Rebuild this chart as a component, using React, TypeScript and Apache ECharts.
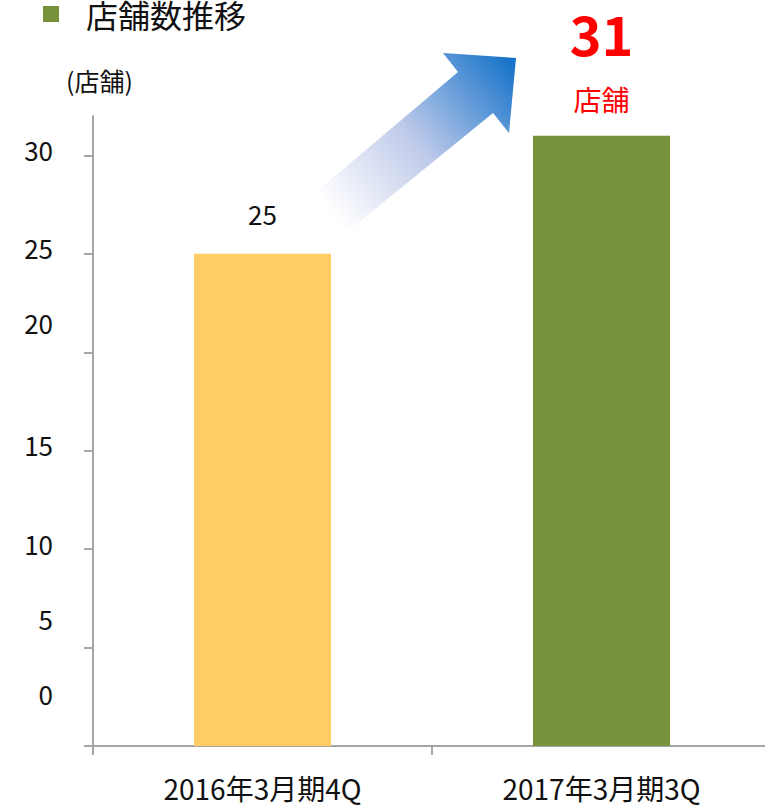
import React, { useEffect, useRef } from "react";
import * as echarts from "echarts";

const categories = ["2016年3月期4Q", "2017年3月期3Q"];
const storeCounts = [25, 31];
const barColors = ["#FFCC66", "#76933C"];
const yTicks = [0, 5, 10, 15, 20, 25, 30];
// vertical offset (px, upward) of each y label relative to its tick, as in the reference
const yLabelShift: Record<number, number> = { 0: 53, 5: 29, 10: 6, 15: 6, 20: 30, 25: 6, 30: 6 };
const seriesName = "店舗数推移";
const unitLabel = "(店舗)";
const highlightUnit = "店舗";

const FONT = '"Noto Sans CJK JP", "Noto Sans", sans-serif';

export default function App() {
  const ref = useRef<HTMLDivElement>(null);
  useEffect(() => {
    if (!ref.current) return;
    const chart = echarts.init(ref.current, null, { renderer: "svg" });
    const rich: Record<string, any> = {};
    yTicks.forEach((v) => {
      rich["s" + v] = {
        fontSize: 26,
        fontFamily: FONT,
        color: "#111",
        padding: [0, 0, 2 * (yLabelShift[v] || 0), 0],
      };
    });
    const arrowGrad = new echarts.graphic.LinearGradient(
      331, 212, 516, 58,
      [
        { offset: 0, color: "#ffffff" },
        { offset: 0.45, color: "#c0cbea" },
        { offset: 1, color: "#0f6fc8" },
      ],
      true
    );
    chart.setOption({
      animation: false,
      textStyle: { fontFamily: FONT },
      legend: {
        left: 38,
        top: -7,
        icon: "rect",
        itemWidth: 16,
        itemHeight: 16,
        data: [seriesName],
        textStyle: { fontSize: 32, color: "#111", fontFamily: FONT, padding: [0, 0, 0, 22] },
      },
      grid: {
        left: 93,
        top: 116,
        width: 678,
        bottom: 805 - 746,
        containLabel: false,
        outerBoundsMode: "none",
      },
      xAxis: {
        type: "category",
        data: categories,
        axisLine: { lineStyle: { color: "#a6a6a6", width: 2 } },
        axisTick: { show: true, length: 9, lineStyle: { color: "#a6a6a6", width: 2 } },
        axisLabel: { fontSize: 28, color: "#111", margin: 28, fontFamily: FONT },
      },
      yAxis: {
        type: "value",
        min: 0,
        max: 32,
        interval: 1,
        splitLine: { show: false },
        axisLine: { show: true, lineStyle: { color: "#a6a6a6", width: 2 } },
        axisTick: {
          show: true,
          length: 9,
          customValues: yTicks,
          lineStyle: { color: "#a6a6a6", width: 2 },
        },
        axisLabel: {
          customValues: yTicks,
          margin: 40,
          formatter: (v: number) => `{s${v}|${v}}`,
          rich,
        },
      },
      series: [
        {
          name: seriesName,
          type: "bar",
          barWidth: 137,
          itemStyle: { color: barColors[1] },
          data: storeCounts.map((v, i) => {
            const item: any = { value: v, itemStyle: { color: barColors[i] } };
            if (i === 0) {
              item.label = {
                show: true,
                position: "top",
                distance: 27,
                fontSize: 26,
                color: "#111",
                fontFamily: FONT,
              };
            } else {
              item.label = {
                show: true,
                position: "top",
                distance: 3,
                formatter: `{a|${v}}\n{b|${highlightUnit}}`,
                rich: {
                  a: { fontSize: 54, fontWeight: "bold", color: "#ff0000", lineHeight: 64, fontFamily: FONT },
                  b: { fontSize: 28, color: "#ff0000", lineHeight: 68, fontFamily: FONT },
                },
              };
            }
            return item;
          }),
        },
      ],
      graphic: [
        {
          type: "text",
          left: 66,
          top: 67,
          style: { text: unitLabel, fontSize: 25, fill: "#111", fontFamily: FONT },
        },
        {
          type: "polygon",
          shape: {
            points: [
              [315, 193],
              [458, 72],
              [443, 53],
              [516, 58],
              [509, 133],
              [493, 113],
              [347, 232],
            ],
          },
          style: { fill: arrowGrad },
        },
      ],
    });
    return () => chart.dispose();
  }, []);
  return (
    <div
      ref={ref}
      style={{ position: "fixed", left: 0, top: 0, width: 765, height: 805, background: "#fff" }}
    />
  );
}
